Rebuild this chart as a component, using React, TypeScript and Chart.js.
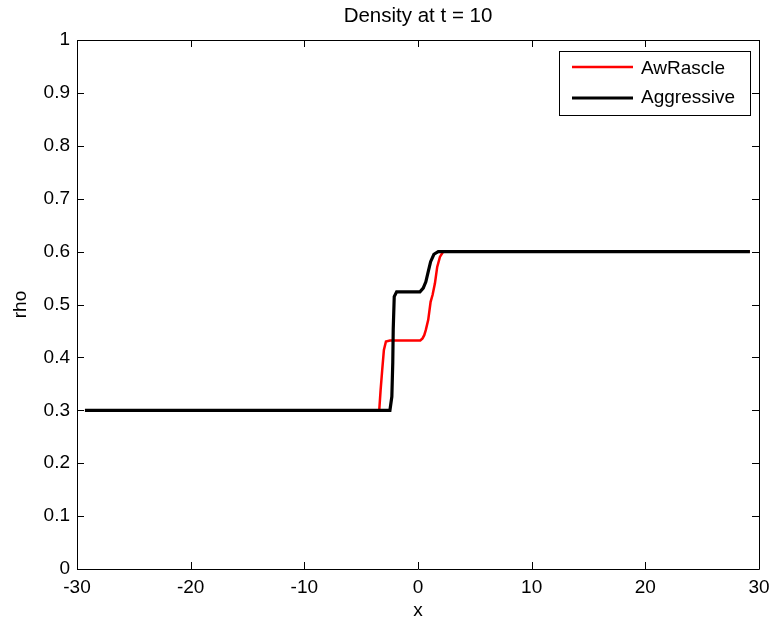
import React, { useEffect, useRef } from "react";
import { Chart, registerables } from "chart.js";

Chart.register(...registerables);

const titleText = "Density at t = 10";
const xLabel = "x";
const yLabel = "rho";
const seriesNames = ["AwRascle", "Aggressive"];
const seriesColors = ["#ff0000", "#000000"];

const xTicks = [-30, -20, -10, 0, 10, 20, 30];
const yTicks = [0, 0.1, 0.2, 0.3, 0.4, 0.5, 0.6, 0.7, 0.8, 0.9, 1];

const awX = [-29.3, -3.41, -3.29, -3.15, -3.0, -2.82, -2.47, 0.2, 0.4, 0.55, 0.69, 0.9, 1.11, 1.28, 1.49, 1.69, 1.93, 2.22, 2.5, 29.2];
const awY = [0.3, 0.3, 0.338, 0.376, 0.414, 0.43, 0.432, 0.432, 0.436, 0.442, 0.452, 0.471, 0.505, 0.518, 0.54, 0.571, 0.59, 0.6, 0.6, 0.6];

const agX = [-29.3, -2.47, -2.3, -2.22, -2.18, -2.09, -1.88, 0.17, 0.46, 0.69, 0.9, 1.11, 1.4, 1.78, 2.0, 29.2];
const agY = [0.3, 0.3, 0.326, 0.39, 0.452, 0.515, 0.524, 0.524, 0.531, 0.543, 0.562, 0.581, 0.595, 0.6, 0.6, 0.6];

const FONT = "'Liberation Sans', Arial, sans-serif";

const fmt = (v: number) => String(Number(v.toFixed(1)));

const frameAndTicks = {
  id: "frameAndTicks",
  afterDraw(chart: any) {
    const { ctx, chartArea } = chart;
    const { left, right, top, bottom } = chartArea;
    const xs = chart.scales.x;
    const ys = chart.scales.y;
    const tl = 7;
    ctx.save();
    ctx.strokeStyle = "#000";
    ctx.lineWidth = 1;
    ctx.beginPath();
    ctx.rect(Math.round(left) + 0.5, Math.round(top) + 0.5, Math.round(right - left), Math.round(bottom - top));
    ctx.stroke();
    ctx.beginPath();
    xTicks.forEach((v) => {
      const px = Math.round(xs.getPixelForValue(v)) + 0.5;
      ctx.moveTo(px, bottom);
      ctx.lineTo(px, bottom - tl);
      ctx.moveTo(px, top);
      ctx.lineTo(px, top + tl);
    });
    yTicks.forEach((v) => {
      const py = Math.round(ys.getPixelForValue(v)) + 0.5;
      ctx.moveTo(left, py);
      ctx.lineTo(left + tl, py);
      ctx.moveTo(right, py);
      ctx.lineTo(right - tl, py);
    });
    ctx.stroke();

    // legend box
    const bx = 559.5, by = 51.5, bw = 191, bh = 64;
    ctx.fillStyle = "#fff";
    ctx.fillRect(bx, by, bw, bh);
    ctx.strokeRect(bx, by, bw, bh);
    const rows = [67, 98];
    const textRows = [69, 98];
    chart.data.datasets.forEach((ds: any, i: number) => {
      ctx.beginPath();
      ctx.strokeStyle = ds.borderColor;
      ctx.lineWidth = ds.borderWidth;
      ctx.moveTo(572, rows[i]);
      ctx.lineTo(633, rows[i]);
      ctx.stroke();
      ctx.fillStyle = "#000";
      ctx.font = `19px ${FONT}`;
      ctx.textBaseline = "middle";
      ctx.textAlign = "left";
      ctx.fillText(ds.label, 641, textRows[i]);
    });
    ctx.restore();
  },
};

export default function App() {
  const ref = useRef<HTMLCanvasElement>(null);
  useEffect(() => {
    if (!ref.current) return;
    const chart = new Chart(ref.current, {
      type: "line",
      data: {
        datasets: [
          {
            label: seriesNames[0],
            data: awX.map((x, i) => ({ x, y: awY[i] })),
            borderColor: seriesColors[0],
            backgroundColor: seriesColors[0],
            borderWidth: 2.5,
            pointRadius: 0,
            tension: 0,
            fill: false,
            order: 1,
          },
          {
            label: seriesNames[1],
            data: agX.map((x, i) => ({ x, y: agY[i] })),
            borderColor: seriesColors[1],
            backgroundColor: seriesColors[1],
            borderWidth: 3.2,
            pointRadius: 0,
            tension: 0,
            fill: false,
            order: 0,
          },
        ],
      },
      options: {
        responsive: false,
        animation: false,
        devicePixelRatio: 1,
        layout: { padding: { left: 0, right: 10, top: 0, bottom: 0 } },
        plugins: {
          legend: { display: false },
          tooltip: { enabled: false },
          title: {
            display: true,
            fullSize: false,
            text: titleText,
            color: "#000",
            font: { family: FONT, size: 20.5, weight: "normal", lineHeight: 1.2 },
            padding: { top: 4, bottom: 11.4 },
          },
        },
        scales: {
          x: {
            type: "linear",
            min: -30,
            max: 30,
            afterBuildTicks: (s: any) => {
              s.ticks = xTicks.map((v) => ({ value: v }));
            },
            afterFit: (s: any) => {
              s.height = 49;
              s.paddingLeft = 0;
              s.paddingRight = 0;
            },
            grid: { display: false, drawTicks: false },
            border: { display: false },
            ticks: {
              color: "#000",
              padding: 7,
              maxRotation: 0,
              autoSkip: false,
              font: { family: FONT, size: 19 },
              callback: (v: any) => fmt(Number(v)),
            },
            title: {
              display: true,
              text: xLabel,
              color: "#000",
              font: { family: FONT, size: 19, lineHeight: 0.8 },
              padding: { top: 0, bottom: 0 },
            },
          },
          y: {
            type: "linear",
            min: 0,
            max: 1,
            afterBuildTicks: (s: any) => {
              s.ticks = yTicks.map((v) => ({ value: v }));
            },
            afterFit: (s: any) => {
              s.width = 77;
              s.paddingTop = 0;
              s.paddingBottom = 0;
            },
            grid: { display: false, drawTicks: false },
            border: { display: false },
            ticks: {
              color: "#000",
              padding: 7,
              autoSkip: false,
              font: { family: FONT, size: 19 },
              callback: (v: any) => fmt(Number(v)),
            },
            title: {
              display: true,
              text: yLabel,
              color: "#000",
              font: { family: FONT, size: 19, lineHeight: 1.2 },
              padding: { top: 9, bottom: 0 },
            },
          },
        },
      },
      plugins: [frameAndTicks],
    });
    return () => chart.destroy();
  }, []);
  return (
    <div style={{ position: "fixed", left: 0, top: 0, width: 769, height: 618, background: "#fff" }}>
      <canvas ref={ref} width={769} height={618} style={{ display: "block" }} />
    </div>
  );
}
